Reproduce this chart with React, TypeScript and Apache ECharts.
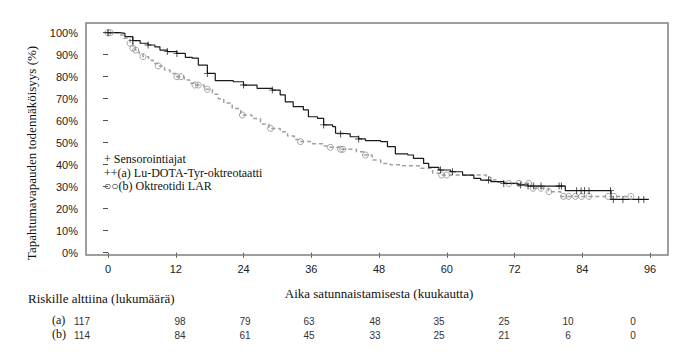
import React, { useEffect, useRef } from "react";
import * as echarts from "echarts";

// Kaplan-Meier step points [month, survival %]
const curveA: [number, number][] = [
  [0, 100], [2.1, 99.7], [3.0, 98.2], [4.4, 96.4], [5.7, 95.2], [7.1, 94.4], [8.3, 93.6],
  [9.2, 92.1], [10.5, 91.4], [12.2, 90.6], [13.7, 88.8], [14.9, 88.4], [16.0, 85.3],
  [17.6, 81.5], [19.0, 78.2], [22.2, 77.7], [24.0, 76.2], [26.4, 74.7], [29.1, 73.9],
  [30.5, 71.7], [31.4, 68.6], [32.8, 66.4], [34.6, 64.9], [35.5, 61.8], [37.1, 61.1],
  [38.2, 58.1], [39.8, 57.3], [40.3, 54.3], [41.2, 54.0], [42.9, 52.7], [44.4, 51.7],
  [45.6, 50.9], [48.3, 50.5], [49.5, 48.2], [50.9, 44.9], [53.1, 44.4], [54.1, 42.9],
  [55.9, 40.6], [56.8, 38.8], [58.6, 37.6], [60.7, 36.8], [62.8, 35.3], [64.8, 33.8],
  [66.0, 33.0], [67.8, 32.3], [70.1, 31.5], [72.6, 30.8], [74.4, 30.3], [81.0, 28.2],
  [89.1, 24.2], [95.8, 24.2],
];
const censorA: number[] = [
  0, 4.4, 7.1, 10.5, 12.2, 17.6, 24.0, 29.1, 38.2, 41.2, 44.4, 58.9, 61.0, 67.4,
  70.1, 73.1, 74.4, 75.4, 76.7, 79.9, 80.3, 83.0, 83.8, 84.4, 85.2, 89.0, 89.5, 91.2, 94.0, 94.9,
];

const curveB: [number, number][] = [
  [0, 100], [1.8, 99.0], [2.8, 97.5], [3.9, 95.2], [4.4, 93.0], [4.8, 92.1], [5.5, 90.5],
  [6.2, 89.1], [7.2, 87.5], [8.0, 86.0], [8.9, 84.9], [10.0, 83.0], [11.0, 81.5],
  [12.2, 80.0], [13.5, 78.5], [14.5, 77.0], [15.4, 76.2], [17.0, 74.3], [18.5, 72.0],
  [19.5, 70.0], [20.5, 68.0], [22.0, 65.5], [23.5, 62.6], [25.5, 61.0], [27.0, 58.5],
  [28.5, 56.5], [30.5, 55.0], [31.8, 53.0], [33.0, 51.5], [34.0, 50.5], [36.0, 49.5],
  [38.0, 48.5], [39.2, 47.9], [41.0, 47.0], [44.0, 45.9], [45.4, 44.4], [46.8, 42.1],
  [48.3, 40.6], [50.0, 40.0], [52.2, 39.5], [55.4, 38.4], [57.5, 36.1], [58.8, 35.3],
  [67.0, 34.3], [67.8, 33.0], [69.0, 32.0], [70.5, 31.5], [75.0, 29.3], [78.0, 27.7],
  [80.2, 25.6], [92.8, 25.6],
];
const censorB: number[] = [
  0, 0.4, 3.9, 4.4, 4.9, 6.2, 8.9, 12.2, 12.9, 15.4, 16.0, 17.6, 23.8, 28.8, 34.1, 39.4,
  41.2, 41.6, 45.6, 59.1, 60.0, 71.0, 72.8, 74.5, 75.3, 76.7, 78.1, 80.7, 81.6, 82.8,
  83.9, 85.2, 88.6, 89.6, 92.6,
];

const xTicks = [0, 12, 24, 36, 48, 60, 72, 84, 96];
const riskA = [117, 98, 79, 63, 48, 35, 25, 10, 0];
const riskB = [114, 84, 61, 45, 33, 25, 21, 6, 0];
const legendLines = [
  "+ Sensorointiajat",
  "++(a) Lu-DOTA-Tyr-oktreotaatti",
  "\u25CB\u25CB(b) Oktreotidi LAR",
];
const yTitle = "Tapahtumavapauden todennäköisyys (%)";
const xTitle = "Aika satunnaistamisesta (kuukautta)";
const riskTitle = "Riskille alttiina (lukumäärä)";

const riskCols = [82, 180, 245, 309, 375, 439, 504, 568, 633];

function kmAt(curve: [number, number][], t: number): number {
  let v = curve[0][1];
  for (const [m, s] of curve) {
    if (m <= t) v = s;
    else break;
  }
  return v;
}

const SERIF = "'Liberation Serif', 'Times New Roman', Times, serif";
const SANS = "'Liberation Sans', Arial, Helvetica, sans-serif";
const PLUS = "path://M4,0h1.2v4h4v1.2h-4v4h-1.2v-4h-4v-1.2h4z";

function txt(text: string, x: number, y: number, size: number, family: string, align = "left", fill = "#111", extra: any = {}) {
  return {
    type: "text",
    x,
    y,
    ...extra,
    style: { text, fontSize: size, fontFamily: family, fill, align, verticalAlign: "middle" },
  };
}

export default function App() {
  const ref = useRef<HTMLDivElement>(null);
  useEffect(() => {
    if (!ref.current) return;
    const chart = echarts.init(ref.current, null, { renderer: "svg" });
    const graphic: any[] = [
      {
        type: "rect",
        shape: { x: 86, y: 23, width: 582, height: 232 },
        style: { fill: "none", stroke: "#808080", lineWidth: 1.5 },
        z: 10,
      },
      txt(yTitle, 31, 153, 13, SERIF, "center", "#111", { rotation: Math.PI / 2 }),
      txt(xTitle, 379, 293, 13, SERIF, "center"),
      txt(riskTitle, 28, 298, 13, SERIF, "left"),
      txt("(a)", 52, 320, 12, SERIF, "left"),
      txt("(b)", 52, 334, 12, SERIF, "left"),
    ];
    legendLines.forEach((t, i) => {
      graphic.push(txt(t, 104, 159 + i * 13.5, 12, SERIF, "left"));
    });
    riskA.forEach((v, i) => {
      graphic.push(txt(String(v), riskCols[i], 321, 10, SANS, "center", "#333"));
    });
    riskB.forEach((v, i) => {
      graphic.push(txt(String(v), riskCols[i], 335, 10, SANS, "center", "#333"));
    });

    chart.setOption({
      animation: false,
      backgroundColor: "#fff",
      grid: { left: 108, right: 48, top: 32.7, bottom: 101.3, containLabel: false },
      xAxis: {
        type: "value",
        min: 0,
        max: 96,
        interval: 12,
        offset: 2,
        axisLine: { show: false },
        axisTick: { show: true, length: 5, lineStyle: { color: "#555" } },
        axisLabel: {
          margin: 9,
          color: "#222",
          fontFamily: SANS,
          fontSize: 11,
          formatter: (v: number) => (xTicks.includes(v) ? String(v) : ""),
        },
        splitLine: { show: false },
      },
      yAxis: {
        type: "value",
        min: 0,
        max: 100,
        interval: 10,
        offset: 22,
        axisLine: { show: false },
        axisTick: { show: true, length: 5, lineStyle: { color: "#555" } },
        axisLabel: { margin: 8, color: "#222", fontFamily: SANS, fontSize: 11, formatter: "{value}%" },
        splitLine: { show: false },
      },
      graphic,
      series: [
        {
          type: "line",
          step: "end",
          data: curveB,
          showSymbol: false,
          lineStyle: { color: "#a0a0a0", width: 1.5, type: [4, 3] },
          clip: false,
          z: 2,
        },
        {
          type: "line",
          step: "end",
          data: curveA,
          showSymbol: false,
          lineStyle: { color: "#1a1a1a", width: 1.2 },
          clip: false,
          z: 3,
        },
        {
          type: "scatter",
          data: censorB.map((t) => [t, kmAt(curveB, t)]),
          symbol: "circle",
          symbolSize: 6,
          itemStyle: { color: "rgba(255,255,255,0)", borderColor: "#8c8c8c", borderWidth: 1 },
          clip: false,
          z: 4,
        },
        {
          type: "scatter",
          data: censorA.map((t) => [t, kmAt(curveA, t)]),
          symbol: PLUS,
          symbolSize: 7,
          itemStyle: { color: "#111" },
          clip: false,
          z: 5,
        },
      ],
    });
    return () => chart.dispose();
  }, []);
  return (
    <div
      ref={ref}
      style={{ position: "fixed", left: 0, top: 0, width: 698, height: 354, background: "#fff" }}
    />
  );
}
